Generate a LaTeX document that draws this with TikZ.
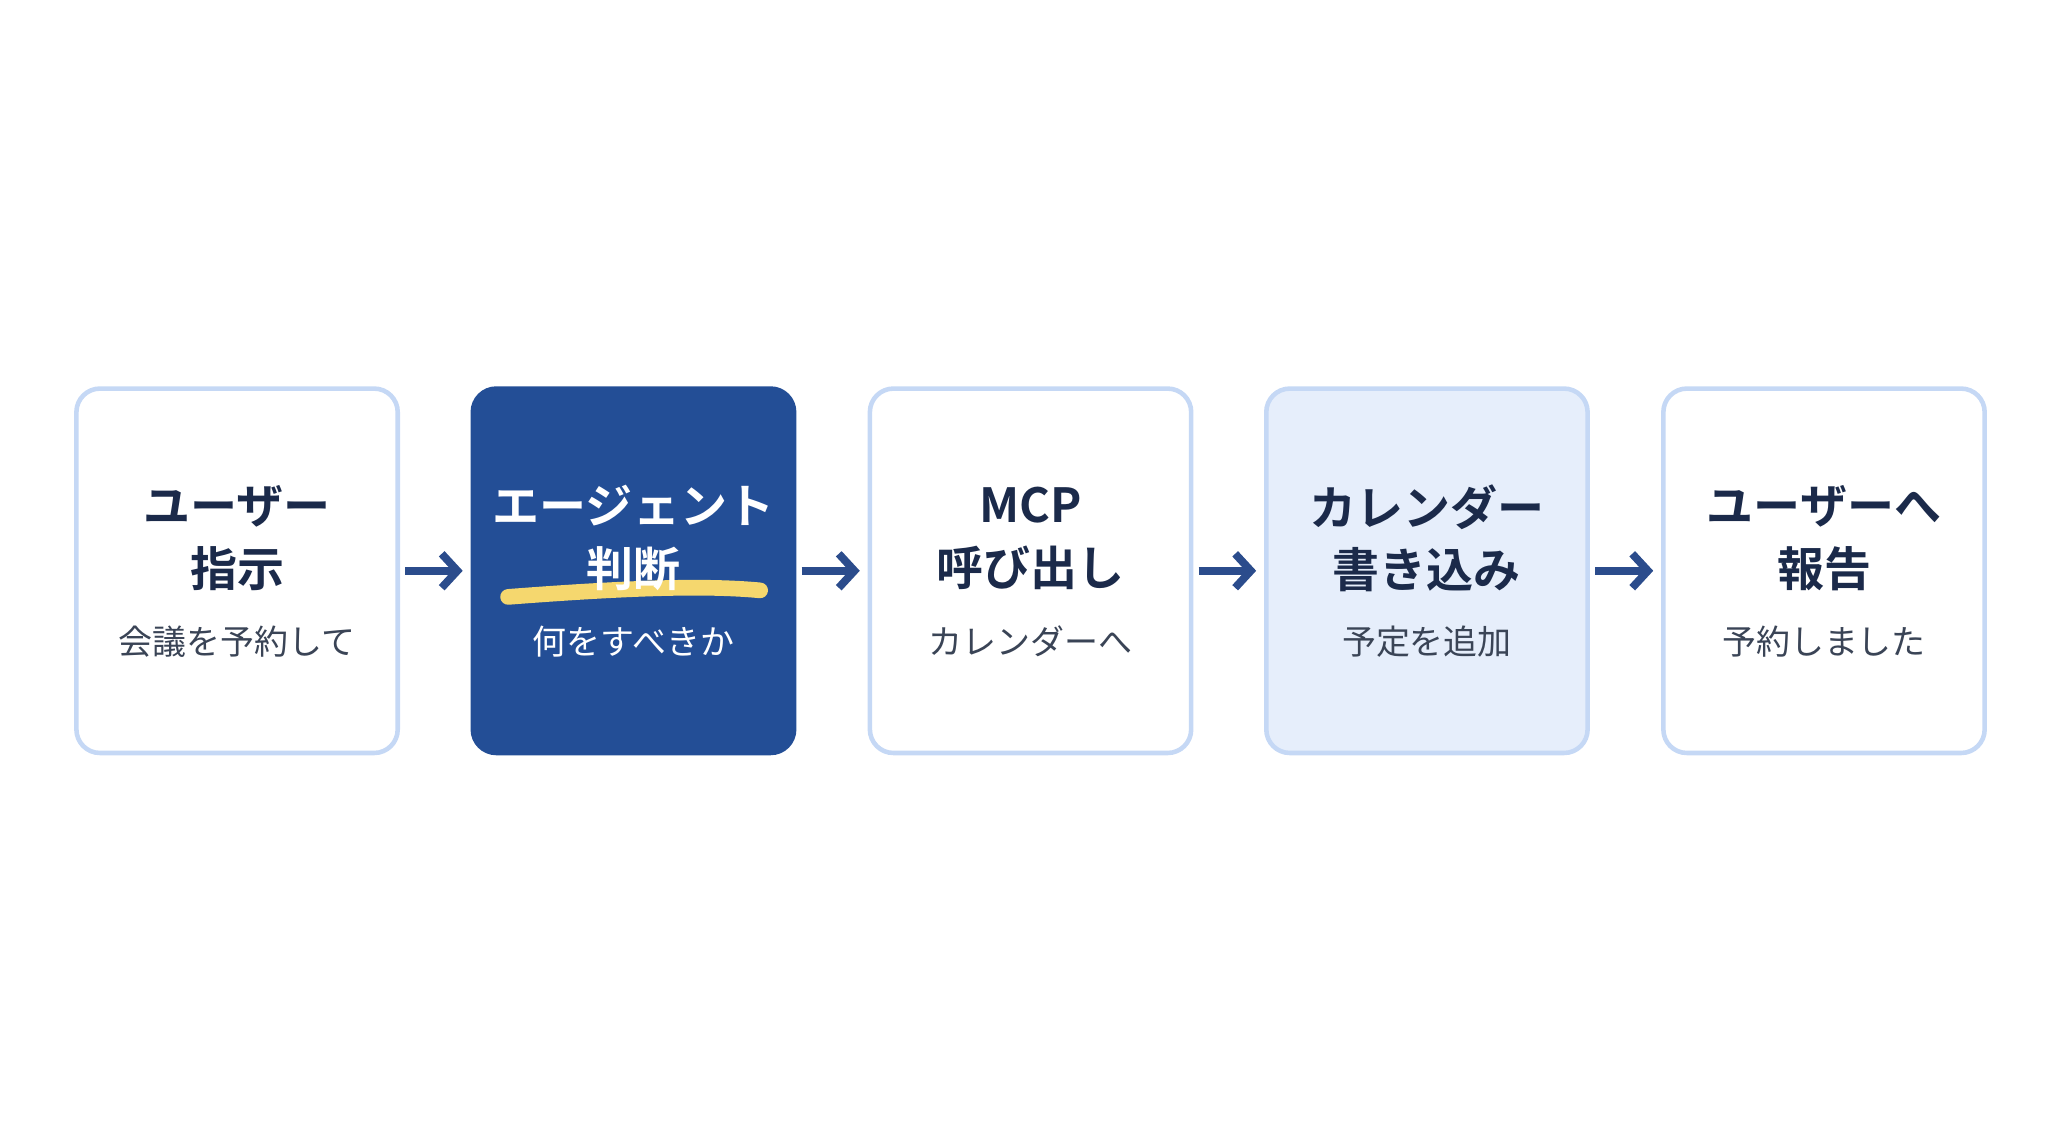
\documentclass[tikz,border=0pt]{standalone}
\usepackage{fontspec}
\setmainfont{Noto Sans CJK JP}
\newfontfamily\jpb{Noto Sans CJK JP Bold}
\usetikzlibrary{arrows.meta}
\definecolor{bordc}{HTML}{C5D8F5}
\definecolor{darkb}{HTML}{234E96}
\definecolor{lightb}{HTML}{E6EEFB}
\definecolor{titc}{HTML}{1B2A4A}
\definecolor{subc}{HTML}{3A4456}
\definecolor{arrc}{HTML}{2B4C8C}
\definecolor{hl}{HTML}{F5D76E}
\begin{document}
\begin{tikzpicture}[x=1pt,y=-1pt,
 card/.style={draw=bordc,line width=3.5pt,rounded corners=18pt,minimum width=246pt,minimum height=279pt,fill=white},
 ttl/.style={font=\jpb\fontsize{36}{48}\selectfont,text=titc,align=center},
 sub/.style={font=\fontsize{26}{30}\selectfont,text=subc},
 arr/.style={draw=arrc,line width=6pt,-{Straight Barb[length=12pt,width=26pt,line width=6pt]}}]
\useasboundingbox (0,0) rectangle (1568,875);
\node[card] (b1) at (181.5,437) {};
\node[card,fill=darkb,draw=darkb] (b2) at (485,437) {};
\node[card] (b3) at (789,437) {};
\node[card,fill=lightb] (b4) at (1092.5,437) {};
\node[card] (b5) at (1396.5,437) {};
\draw[hl,line width=12pt,line cap=round] (389,457) .. controls (480,450) and (540,448) .. (582,452);
\node[ttl] (t1) at (181.5,412) {ユーザー\\指示};
\node[ttl,text=white] (t2) at (485,412) {エージェント\\判断};
\node[ttl] (t3) at (789,412) {MCP\\呼び出し};
\node[ttl] (t4) at (1092.5,412) {カレンダー\\書き込み};
\node[ttl] (t5) at (1396.5,412) {ユーザーへ\\報告};
\node[sub] (s1) at (181.5,491) {会議を予約して};
\node[sub,text=white] (s2) at (485,491) {何をすべきか};
\node[sub] (s3) at (789,491) {カレンダーへ};
\node[sub] (s4) at (1092.5,491) {予定を追加};
\node[sub] (s5) at (1396.5,491) {予約しました};
\foreach \a/\b in {b1/b2,b2/b3,b3/b4,b4/b5}
 \draw[arr] ([xshift=4pt]\a.east) -- ([xshift=-6pt]\b.west);
\end{tikzpicture}
\end{document}
